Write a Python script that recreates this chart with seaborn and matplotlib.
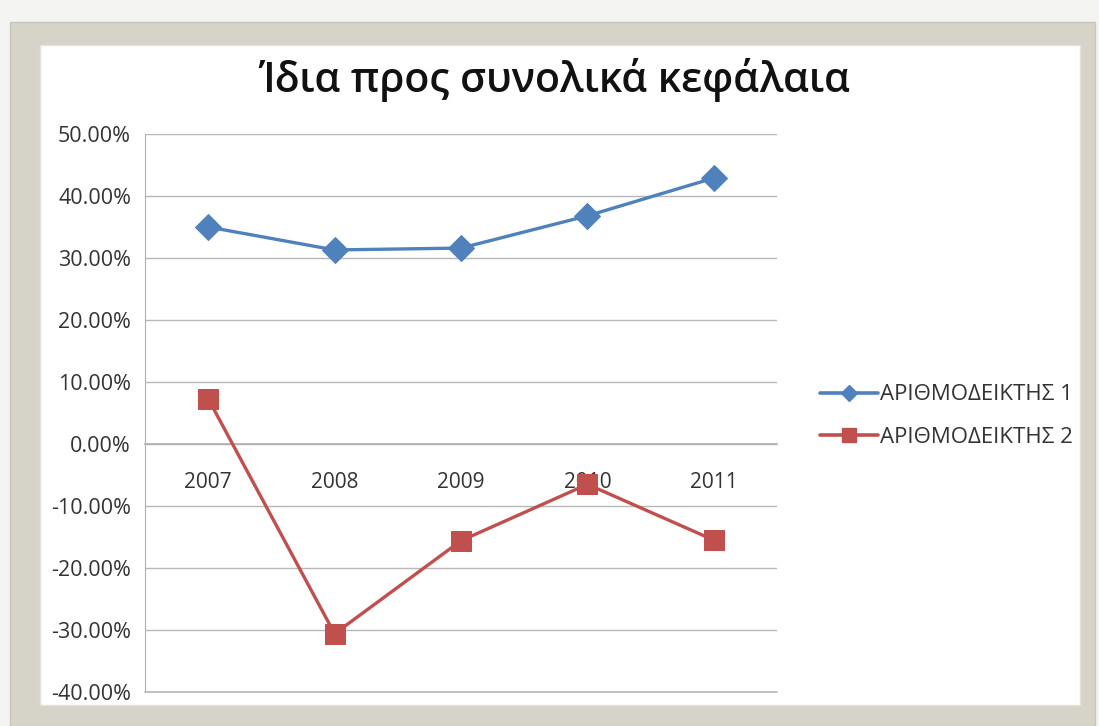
import matplotlib
matplotlib.use("Agg")
import matplotlib.pyplot as plt
from matplotlib.patches import Rectangle
from matplotlib.ticker import FuncFormatter, FixedLocator
from matplotlib.lines import Line2D
import seaborn as sns
import pandas as pd

years = ["2007", "2008", "2009", "2010", "2011"]
series_names = ["ΑΡΙΘΜΟΔΕΙΚΤΗΣ 1", "ΑΡΙΘΜΟΔΕΙΚΤΗΣ 2"]
index_1 = [0.350, 0.313, 0.316, 0.368, 0.429]
index_2 = [0.073, -0.306, -0.156, -0.065, -0.155]
title = "Ίδια προς συνολικά κεφάλαια"

colors = {series_names[0]: "#4F81BD", series_names[1]: "#C0504D"}
markers = {series_names[0]: "D", series_names[1]: "s"}

df = pd.DataFrame({
    "year": years * 2,
    "pos": list(range(len(years))) * 2,
    "value": index_1 + index_2,
    "series": [series_names[0]] * len(years) + [series_names[1]] * len(years),
})

sns.set_style("white")
plt.rcParams["font.family"] = ["Open Sans", "DejaVu Sans"]

W, H = 1099, 726
fig = plt.figure(figsize=(W / 100, H / 100), dpi=100)
fig.patch.set_facecolor("#f4f4f2")

# beige frame and white chart area
fig.add_artist(Rectangle((10 / W, 0), 1085 / W, (H - 22) / H, transform=fig.transFigure,
                         facecolor="#d6d3c9", edgecolor="#c8c5bb", lw=1, zorder=-2))
fig.add_artist(Rectangle((40 / W, (H - 705) / H), 1040 / W, 660 / H, transform=fig.transFigure,
                         facecolor="white", edgecolor="#e4e2dc", lw=1, zorder=-1))

ax = fig.add_axes([145 / W, (H - 692) / H, 632 / W, 558 / H])
ax.set_facecolor("none")

for name in series_names:
    sub = df[df["series"] == name]
    sns.lineplot(data=sub, x="pos", y="value", ax=ax, color=colors[name],
                 marker=markers[name], markersize=13 if markers[name] == "D" else 15,
                 markeredgecolor=colors[name], linewidth=2.4, legend=False, zorder=3)

ax.set_xlim(-0.5, len(years) - 0.5)
ax.set_ylim(-0.40, 0.50)
ax.set_yticks([i / 10 for i in range(-4, 6)])
ax.yaxis.set_major_formatter(FuncFormatter(lambda v, p: f"{v * 100:.2f}%"))
ax.grid(axis="y", color="#b7b7b7", lw=1)
ax.grid(axis="x", visible=False)
ax.set_axisbelow(True)
ax.axhline(-0.40, color="#b7b7b7", lw=1.2, clip_on=False, zorder=1)

for s in ["top", "right"]:
    ax.spines[s].set_visible(False)
ax.spines["left"].set_color("#b0b0b0")
ax.spines["bottom"].set_position(("data", 0))
ax.spines["bottom"].set_color("#b0b0b0")
ax.spines["bottom"].set_linewidth(1.2)

ax.set_xticks(range(len(years)))
ax.set_xticklabels(years)
ax.xaxis.set_minor_locator(FixedLocator([i + 0.5 for i in range(-1, len(years))]))
ax.tick_params(axis="x", which="major", length=0, pad=20, labelsize=15, labelcolor="#333333")
ax.tick_params(axis="x", which="minor", length=6, direction="in", color="#b0b0b0")
ax.tick_params(axis="y", length=6, color="#b0b0b0", labelsize=15.5, labelcolor="#333333", pad=4)
ax.set_xlabel("")
ax.set_ylabel("")

fig.text(555 / W, (H - 80) / H, title, ha="center", va="center", fontsize=29.5,
         fontweight="semibold", color="#111111")

handles = [Line2D([], [], color=colors[n], marker=markers[n], lw=2.6,
                  markersize=8 if markers[n] == "D" else 10, markeredgecolor=colors[n])
           for n in series_names]
fig.legend(handles, series_names, loc="center left",
           bbox_to_anchor=(800 / W, (H - 416) / H), frameon=False, fontsize=16,
           handlelength=2.6, handletextpad=0.1, labelspacing=0.95, labelcolor="#333333")

fig.savefig("out.png", dpi=100, facecolor=fig.get_facecolor())
